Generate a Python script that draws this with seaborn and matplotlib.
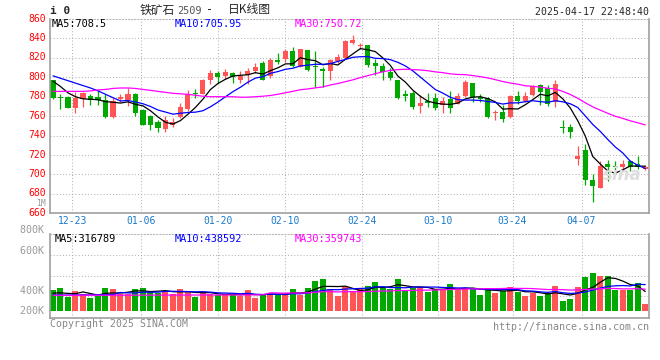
import matplotlib
matplotlib.use("Agg")
import matplotlib.pyplot as plt
import matplotlib.transforms as mtransforms
import numpy as np
import pandas as pd
import seaborn as sns

# ---- data: one candle per trading day (12-18 .. 04-18) ----
opens = [796.7, 780.0, 780.0, 768.7, 777.2, 780.9, 779.9, 776.5, 759.0, 777.2,
         776.5, 782.9, 766.4, 760.3, 754.3, 746.5, 750.6, 759.0, 767.4, 783.6,
         783.2, 796.7, 804.1, 801.7, 804.4, 797.7, 802.4, 806.1, 814.9, 801.1,
         817.6, 819.3, 827.0, 810.8, 828.0, 811.2, 808.8, 806.1, 816.9, 820.3,
         835.0, 831.7, 833.1, 814.2, 811.8, 805.1, 796.7, 782.6, 784.2, 770.8,
         775.5, 778.2, 771.4, 777.5, 772.5, 780.9, 794.0, 779.9, 778.8, 763.0,
         764.7, 759.0, 780.9, 775.5, 781.5, 791.6, 789.3, 774.8, 748.9, 748.5,
         715.9, 725.0, 694.7, 685.6, 710.8, 709.2, 708.0, 713.5, 710.8, 706.0]
closes = [778.8, 779.0, 768.7, 778.8, 783.9, 776.5, 776.5, 759.0, 775.8, 779.5,
          782.9, 763.7, 751.2, 750.6, 747.5, 755.6, 754.3, 769.1, 783.2, 782.9,
          797.7, 804.1, 800.0, 805.1, 800.0, 801.1, 806.8, 810.8, 797.7, 817.6,
          815.9, 827.0, 811.2, 829.0, 807.8, 810.2, 806.1, 817.9, 821.3, 837.1,
          838.1, 833.1, 812.2, 811.5, 805.1, 799.0, 778.8, 780.9, 769.8, 773.8,
          774.0, 768.7, 775.5, 768.7, 780.5, 795.0, 778.2, 777.5, 759.0, 764.0,
          757.3, 780.9, 775.5, 780.9, 790.6, 784.9, 772.5, 793.3, 747.9, 743.5,
          719.0, 694.0, 688.0, 709.2, 708.0, 707.5, 711.0, 708.0, 708.0, 708.0]
highs = [797.7, 783.0, 780.5, 784.6, 785.2, 782.6, 786.6, 782.6, 778.2, 782.6,
         788.9, 783.9, 767.7, 761.3, 756.3, 760.3, 758.3, 773.8, 786.6, 788.0,
         798.4, 807.8, 806.8, 808.8, 805.1, 806.8, 809.5, 814.2, 816.9, 820.3,
         825.0, 828.7, 831.0, 829.5, 828.5, 827.0, 810.2, 819.3, 823.6, 838.5,
         843.8, 835.4, 833.7, 818.6, 814.5, 809.5, 797.4, 787.3, 785.6, 781.5,
         784.0, 784.0, 779.9, 785.6, 784.0, 796.7, 794.5, 782.6, 779.9, 766.4,
         771.4, 781.5, 785.6, 784.9, 792.3, 793.3, 791.6, 797.7, 755.6, 751.9,
         729.4, 731.0, 700.0, 714.2, 715.2, 714.2, 714.9, 714.9, 719.3, 709.5]
lows = [777.2, 767.4, 768.0, 763.0, 769.1, 771.8, 771.4, 758.3, 758.0, 774.8,
        770.4, 759.7, 751.0, 745.5, 743.5, 743.5, 748.9, 758.0, 765.0, 778.2,
        783.0, 792.7, 794.0, 798.4, 794.0, 794.3, 793.3, 804.1, 796.7, 799.0,
        813.5, 815.9, 810.2, 810.2, 806.1, 790.0, 790.0, 797.7, 815.2, 819.6,
        834.4, 828.7, 810.2, 802.4, 797.7, 796.7, 777.5, 775.8, 767.4, 763.0,
        769.0, 766.0, 763.7, 763.0, 772.0, 779.9, 774.8, 774.8, 758.0, 755.6,
        753.6, 758.0, 772.5, 774.8, 780.9, 771.4, 770.4, 769.1, 742.8, 737.8,
        709.8, 689.0, 672.1, 685.6, 693.0, 703.1, 704.1, 703.1, 705.8, 705.0]
volumes = [347, 381, 235, 330, 280, 213, 252, 381, 364, 274,
           280, 364, 381, 308, 302, 330, 274, 364, 330, 235,
           308, 280, 263, 274, 263, 252, 347, 213, 274, 297,
           263, 302, 364, 263, 381, 498, 532, 364, 252, 414,
           308, 358, 414, 482, 398, 358, 532, 330, 375, 398,
           319, 364, 347, 448, 342, 381, 381, 263, 381, 302,
           330, 398, 308, 252, 297, 252, 291, 414, 162, 196,
           398, 566, 633, 588, 582, 342, 342, 342, 465, 118]  # thousand lots

# moving-average values before the window fills
ma5_head = [796.0, 790.5, 784.0, 780.0]
ma10_head = [801.5, 799.0, 796.5, 794.0, 791.5, 789.0, 786.0, 782.5, 779.0]
ma30_head = [785.5, 785.5, 785.5, 785.5, 785.5, 786.0, 787.0, 787.5, 788.5, 789.0,
             789.0, 788.5, 787.5, 786.5, 785.5, 784.5, 783.5, 783.0, 782.5, 781.5,
             780.5, 780.0, 780.0, 780.0, 780.0, 779.5, 779.5, 780.0, 780.5]
vma5_head = [295, 300, 290, 285]
vma10_head = [262, 262, 262, 263, 264, 265, 266, 268, 270]
vma30_head = [258, 258, 258, 258, 259, 259, 259, 260, 260, 260,
              260, 261, 261, 261, 262, 262, 262, 262, 263, 263,
              263, 263, 264, 264, 264, 265, 265, 266, 267]

# legend values as printed on the chart
price_ma_text = ["MA5:708.5", "MA10:705.95", "MA30:750.72"]
vol_ma_text = ["MA5:316789", "MA10:438592", "MA30:359743"]

date_labels = ["12-23", "01-06", "01-20", "02-10", "02-24", "03-10", "03-24", "04-07"]
date_pos = [2.6, 11.8, 22.0, 31.0, 41.2, 51.3, 61.3, 70.5]
price_ticks = [660, 680, 700, 720, 740, 760, 780, 800, 820, 840, 860]
vol_grid = [936, 588, 242]
vol_labels = ["800K", "600K", "400K", "200K"]
vol_label_pos = [1356, 1003, 331, -5]

RED = "#ff5555"
GREEN = "#00a800"
GRID = "#b4b4b4"
FRAME = "#a0a0a0"
MA_COLORS = ["black", "#0000ff", "#ff00ff"]

df = pd.DataFrame({"open": opens, "close": closes, "high": highs, "low": lows,
                   "vol": volumes})
df["i"] = np.arange(len(df))
df["up"] = df["close"] >= df["open"]
df["color"] = np.where(df["up"], RED, GREEN)


def moving(series, n, head):
    vals = series.rolling(n).mean().to_numpy()
    vals[: n - 1] = head
    return vals


df["ma5"] = moving(df["close"], 5, ma5_head)
df["ma10"] = moving(df["close"], 10, ma10_head)
df["ma30"] = moving(df["close"], 30, ma30_head)
df["vma5"] = moving(df["vol"], 5, vma5_head)
df["vma10"] = moving(df["vol"], 10, vma10_head)
df["vma30"] = moving(df["vol"], 30, vma30_head)

sns.set_style("white")
plt.rcParams["font.family"] = ["DejaVu Sans Mono", "Noto Sans CJK SC"]

W, H = 660, 360
fig = plt.figure(figsize=(W / 100, H / 100), dpi=100)


def rect(x0, y0, x1, y1):
    return [x0 / W, 1 - y1 / H, (x1 - x0) / W, (y1 - y0) / H]


def fx(x):
    return x / W


def fy(y):
    return 1 - y / H


ax = fig.add_axes(rect(50, 19, 649, 213.3))
axv = fig.add_axes(rect(50, 234.3, 649, 318.3))

dotted = (0, (1, 2))
for a in (ax, axv):
    a.set_xlim(-0.4, 79.5)
    a.set_xticks(date_pos)
    a.grid(True, color=GRID, linestyle=dotted, linewidth=0.75)
    a.set_axisbelow(True)
    for side in ("left", "right", "bottom"):
        a.spines[side].set_color(FRAME)
        a.spines[side].set_linewidth(1.2)
    a.spines["top"].set_color(GRID)
    a.spines["top"].set_linestyle(dotted)
    a.spines["top"].set_linewidth(0.75)
    a.tick_params(length=0)

# ---- price panel ----
ax.vlines(df["i"], df["low"], df["high"], colors=df["color"], linewidth=0.9)
body = (df["close"] - df["open"]).abs().clip(lower=1.0)
ax.bar(df["i"], body, bottom=df[["open", "close"]].min(axis=1), width=0.68,
       color=df["color"], linewidth=0)
for col, c in zip(["ma5", "ma10", "ma30"], MA_COLORS):
    sns.lineplot(data=df, x="i", y=col, color=c, linewidth=0.9, ax=ax)
ax.set_ylim(660, 860)
ax.set_yticks(price_ticks)
ax.set_yticklabels([str(t) for t in price_ticks])
ax.tick_params(axis="y", labelcolor="#ff0000", labelsize=7, pad=3)
lift = mtransforms.ScaledTranslation(0, 1.5 / 100, fig.dpi_scale_trans)
for lab in ax.get_yticklabels():
    lab.set_transform(lab.get_transform() + lift)
ax.set_xticklabels(date_labels)
ax.tick_params(axis="x", labelcolor="#1a7acc", labelsize=7, pad=2)
ax.set_xlabel("")
ax.set_ylabel("")

# ---- volume panel ----
axv.bar(df["i"], df["vol"], width=0.8, color=df["color"], linewidth=0)
for col, c in zip(["vma5", "vma10", "vma30"], MA_COLORS):
    sns.lineplot(data=df, x="i", y=col, color=c, linewidth=0.9, ax=axv)
axv.set_ylim(-128, 1283)
axv.set_yticks(vol_grid)
axv.set_yticklabels([])
axv.set_xticklabels([])
axv.set_xlabel("")
axv.set_ylabel("")
for lab, pos in zip(vol_labels, vol_label_pos):
    axv.text(-0.4, pos, lab + " ", ha="right", va="center", fontsize=7.2,
             color="#999999", transform=axv.transData, clip_on=False)

# ---- texts ----
for txt, x, c in zip(price_ma_text, [52, 175, 295], MA_COLORS):
    fig.text(fx(x), fy(24), txt, fontsize=7.4, color=c, va="center")
for txt, x, c in zip(vol_ma_text, [55, 175, 295], MA_COLORS):
    fig.text(fx(x), fy(239), txt, fontsize=7.4, color=c, va="center")

fig.text(fx(50), fy(11), "i 0", fontsize=8, weight="bold", va="center")
fig.text(fx(140), fy(10), "铁矿石", fontsize=8.5, family=["Noto Sans CJK SC"], va="center")
fig.text(fx(177), fy(11), "2509", fontsize=7.4, color="#555555", va="center")
fig.text(fx(210), fy(10), "-", fontsize=8.5, va="center", ha="center")
fig.text(fx(228), fy(10), "日K线图", fontsize=8.5, family=["Noto Sans CJK SC"], va="center")
fig.text(fx(649), fy(12), "2025-04-17 22:48:40", fontsize=7.1, ha="right", va="center")
fig.text(fx(46), fy(203), "1M", fontsize=5.8, color="#999999", ha="right", va="center")
fig.text(fx(622), fy(175), "sina", fontsize=12, style="italic", weight="bold",
         color="#dddddd", ha="center", va="center", family=["DejaVu Sans"])
fig.text(fx(50), fy(324), "Copyright 2025 SINA.COM", fontsize=7.1, color="#888888", va="center")
fig.text(fx(649), fy(327), "http://finance.sina.com.cn", fontsize=7.2, color="#888888",
         ha="right", va="center")

fig.savefig("out.png", dpi=100)
